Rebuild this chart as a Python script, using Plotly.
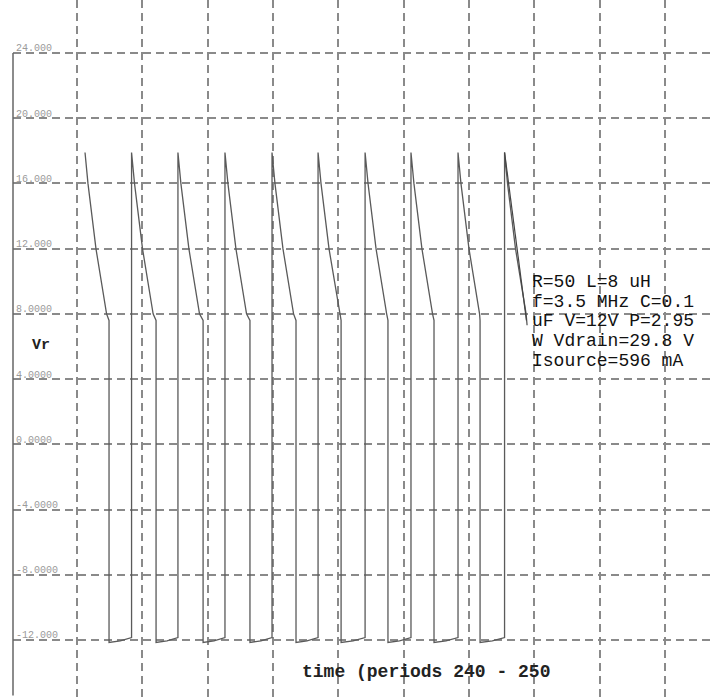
import plotly.graph_objects as go

# values (time in microseconds, volts)
y_ticks = [24, 20, 16, 12, 8, 4, 0, -4, -8, -12]
y_tick_text = ["24.000", "20.000", "16.000", "12.000", "8.0000",
               "4.0000", "0.0000", "-4.0000", "-8.0000", "-12.000"]

peak_t = [68.849, 69.134, 69.418, 69.706, 69.994, 70.276, 70.564, 70.845, 71.133, 71.418]
peak_v = [17.9, 17.9, 17.9, 17.9, 17.9, 17.9, 17.9, 17.9, 17.9, 17.9]
end_t = [68.996, 69.284, 69.572, 69.859, 70.141, 70.417, 70.704, 70.986, 71.268, 71.556]
end_v = [7.6, 7.6, 7.6, 7.6, 7.6, 7.6, 7.6, 7.6, 7.6, 7.3]
# shape of the fall after each peak
decay_dt = [0.018, 0.067, 0.132]
decay_v = [16.0, 12.0, 8.0]
# bottom plateau between pulses
floor_start = -12.15
floor_mid = -12.05
floor_end = -11.85

note_lines = ["R=50 L=8 uH", "f=3.5 MHz C=0.1", "uF V=12V P=2.95",
              "W Vdrain=29.8 V", "Isource=596 mA"]

xs, ys = [], []
n = len(peak_t)
for k in range(n):
    if k > 0:
        xs += [peak_t[k]]
        ys += [floor_end]
    xs.append(peak_t[k])
    ys.append(peak_v[k])
    for dt, v in zip(decay_dt, decay_v):
        xs.append(peak_t[k] + dt)
        ys.append(v)
    xs.append(end_t[k])
    ys.append(end_v[k])
    if k < n - 1:
        xs += [end_t[k], (end_t[k] + peak_t[k + 1]) / 2]
        ys += [floor_start, floor_mid]

fig = go.Figure()
fig.add_scatter(x=xs, y=ys, mode="lines", line=dict(color="#5a5a5a", width=1.3),
                hoverinfo="skip", showlegend=False)
# the last pulse is drawn several times on top of itself in the original
fig.add_scatter(x=[peak_t[-1], end_t[-1] - 0.004], y=[peak_v[-1], end_v[-1] + 0.3],
                mode="lines", line=dict(color="#444444", width=1.2),
                hoverinfo="skip", showlegend=False)

fig.update_xaxes(range=[68.408, 72.676], tick0=68.8, dtick=0.4,
                 showgrid=True, gridcolor="#8a8a8a", gridwidth=1.5, griddash="8px,5px",
                 showticklabels=False, zeroline=False, showline=False)
fig.update_yaxes(range=[-15.62, 27.25], tickvals=y_ticks, ticktext=y_tick_text,
                 showgrid=True, gridcolor="#8a8a8a", gridwidth=1.5, griddash="8px,5px",
                 ticklabelposition="inside", ticklabelshift=-5,
                 tickfont=dict(size=10, color="#9a9a9a", family="Liberation Mono"),
                 zeroline=False, showline=False)

# left axis line only runs from the top tick down
fig.add_shape(type="line", xref="paper", x0=0, x1=0, yref="y", y0=24, y1=-15.4,
              line=dict(color="#666666", width=1.5))

mono = "Liberation Mono, Courier New, monospace"
fig.add_annotation(text="<b>Vr</b>", xref="paper", yref="paper", x=0.025, y=1 - 345 / 699,
                   xanchor="left", yanchor="middle", showarrow=False,
                   font=dict(family=mono, size=15, color="#222222"))
for i, line in enumerate(note_lines):
    fig.add_annotation(text=line, xref="paper", yref="paper",
                       x=(530 - 13) / 697, y=1 - (282 + i * 19.7) / 699,
                       xanchor="left", yanchor="middle", showarrow=False,
                       font=dict(family=mono, size=18, color="#111111"))
fig.add_annotation(text="<b>time (periods 240 - 250</b>", xref="paper", yref="paper",
                   x=(300 - 13) / 697, y=1 - 672 / 699, xanchor="left", yanchor="middle",
                   showarrow=False, font=dict(family=mono, size=18, color="#222222"))

fig.update_layout(width=710, height=699, margin=dict(l=13, r=0, t=0, b=0),
                  plot_bgcolor="white", paper_bgcolor="white")
fig.write_html("out.html", config={"displayModeBar": False},
               post_script="document.body.style.margin='0';")
